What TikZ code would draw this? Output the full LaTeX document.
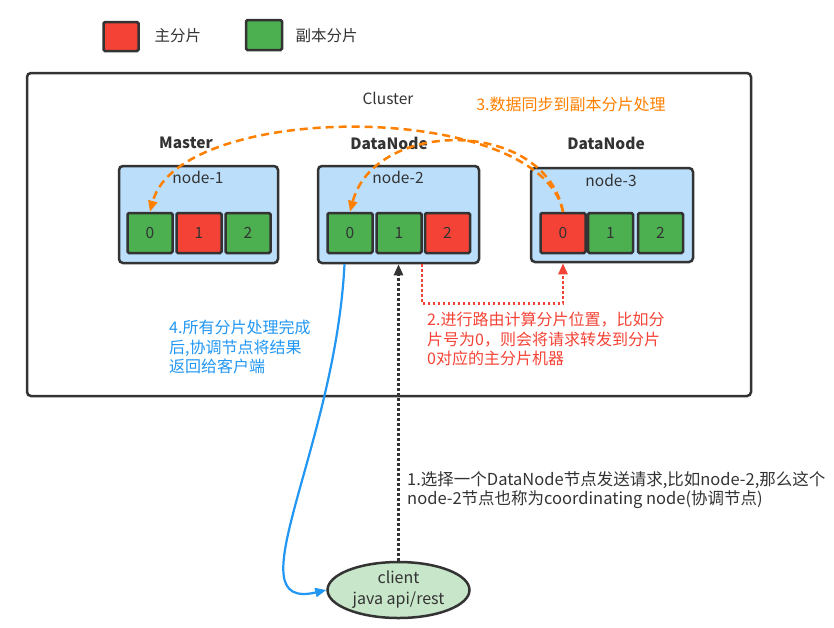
\documentclass[tikz,border=0pt]{standalone}
\usepackage{fontspec}
\setmainfont{Noto Sans CJK SC}
\usetikzlibrary{arrows.meta,shapes.geometric}
\definecolor{dk}{HTML}{333333}
\definecolor{shred}{HTML}{F44336}
\definecolor{shgreen}{HTML}{4CAF50}
\definecolor{boxblue}{HTML}{BBDEFB}
\definecolor{orng}{HTML}{FF8000}
\definecolor{bluel}{HTML}{2196F3}
\definecolor{redl}{HTML}{F44336}
\definecolor{clientg}{HTML}{C8E6C9}
\begin{document}
\begin{tikzpicture}[x=1pt,y=-1pt,
  shard/.style={draw=dk, line width=2.5pt, rounded corners=1.5pt, minimum width=45pt, minimum height=40pt, inner sep=0pt, font=\fontsize{15.5}{18}\selectfont, text=dk},
  redshard/.style={shard, fill=shred},
  greenshard/.style={shard, fill=shgreen},
  machine/.style={draw=dk, line width=2.5pt, rounded corners=4pt, fill=boxblue, inner sep=0pt},
  lbl/.style={font=\fontsize{15.5}{19}\selectfont, text=dk},
  blbl/.style={font=\fontsize{15.5}{19}\selectfont\bfseries, text=dk},
  note/.style={font=\fontsize{16}{19.5}\selectfont, align=left, anchor=north west, inner sep=0pt},
  syncarrow/.style={draw=orng, line width=2.5pt, dash pattern=on 8pt off 5pt, -{Triangle[length=11pt,width=9pt]}},
  dotarrow/.style={line width=2.5pt, dash pattern=on 2.5pt off 2.5pt, -{Triangle[length=11pt,width=9pt]}}
]
\useasboundingbox (0,0) rectangle (834,627);
% legend
\node[redshard, minimum width=35pt, minimum height=29pt] (legr) at (121,36.5) {};
\node[lbl, anchor=west] (legrt) at (151,36) {主分片};
\node[greenshard, minimum width=36pt, minimum height=30pt] (legg) at (264,35) {};
\node[lbl, anchor=west] (leggt) at (292,36) {副本分片};
% cluster
\draw[draw=dk, line width=2.5pt, rounded corners=4pt] (27,73) rectangle (751,396);
\node[lbl] (clt) at (388,98) {Cluster};
\node[font=\fontsize{16}{19}\selectfont, text=orng] (t3) at (571,104) {3.数据同步到副本分片处理};
% machines
\node[machine, minimum width=159pt, minimum height=97pt] (n1) at (198.5,214.5) {};
\node[machine, minimum width=161pt, minimum height=97pt] (n2) at (398.5,214.5) {};
\node[machine, minimum width=162pt, minimum height=94pt] (n3) at (612,215) {};
\node[blbl] (m1) at (186,143) {Master};
\node[blbl] (m2) at (389,143) {DataNode};
\node[blbl] (m3) at (606,143) {DataNode};
\node[lbl] (l1) at (198,177) {node-1};
\node[lbl] (l2) at (398,177) {node-2};
\node[lbl] (l3) at (611,180) {node-3};
% shards
\node[greenshard] (s1a) at (150,233) {0};
\node[redshard]   (s1b) at (199,233) {1};
\node[greenshard] (s1c) at (248,233) {2};
\node[greenshard] (s2a) at (350,233) {0};
\node[greenshard] (s2b) at (399,233) {1};
\node[redshard]   (s2c) at (447.5,233) {2};
\node[redshard]   (s3a) at (563,233) {0};
\node[greenshard] (s3b) at (610.5,233) {1};
\node[greenshard] (s3c) at (660.5,233) {2};
% client
\node[ellipse, draw=dk, line width=2.5pt, fill=clientg, minimum width=142pt, minimum height=56pt, inner sep=0pt, align=center, font=\fontsize{16}{21}\selectfont, text=dk] (client) at (398.5,590) {client\\java api/rest};
% sync arrows
\draw[syncarrow] (s3a.north) .. controls (540,100) and (180,100) .. (s1a.north);
\draw[syncarrow] (s3a.north) .. controls (545,118) and (375,118) .. (s2a.north);
% request arrow
\draw[dotarrow, draw=dk] (client.north) -- (n2.south);
% routing arrow
\coordinate (rstart) at ([xshift=-2pt]s2c.west |- n2.south);
\draw[dotarrow, draw=redl] (rstart) -- ++(0,39) -| (s3a.south |- n3.south);
% response
\coordinate (bstart) at ([xshift=-54pt]n2.south);
\draw[draw=bluel, line width=2.2pt, -{Triangle[length=11pt,width=9pt]}] (bstart) .. controls (335,450) and (232,612) .. (client.west);
% notes
\node[note, text=redl] (t2) at (427,312) {2.进行路由计算分片位置，比如分\\片号为0，则会将请求转发到分片\\0对应的主分片机器};
\node[note, text=bluel] (t4) at (169,320) {4.所有分片处理完成\\后,协调节点将结果\\返回给客户端};
\node[note, text=dk, font=\fontsize{16.5}{19.5}\selectfont] (t1) at (407,471) {1.选择一个DataNode节点发送请求,比如node-2,那么这个\\node-2节点也称为coordinating node(协调节点)};
\end{tikzpicture}
\end{document}
